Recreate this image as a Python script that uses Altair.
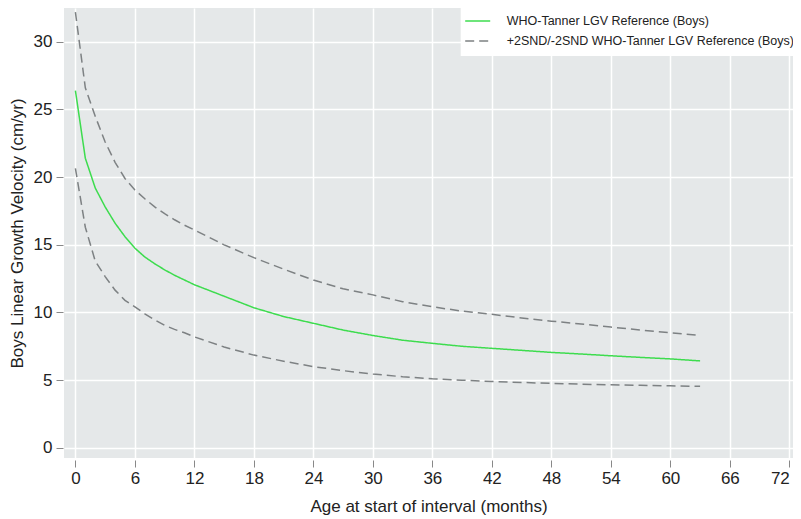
import altair as alt
import pandas as pd

# ---- data ----
months = [0, 1, 2, 3, 4, 5, 6, 7, 8, 9, 10, 11, 12,
          15, 18, 21, 24, 27, 30, 33, 36, 39, 42, 45, 48, 51, 54, 57, 60, 63]
center = [26.4, 21.4, 19.2, 17.8, 16.6, 15.6, 14.75, 14.1, 13.6, 13.15, 12.75, 12.4, 12.05,
          11.2, 10.35, 9.7, 9.2, 8.7, 8.3, 7.95, 7.72, 7.5, 7.35, 7.2, 7.05, 6.93, 6.8, 6.68, 6.57, 6.42]
upper = [32.2, 26.6, 24.5, 22.6, 21.1, 19.9, 19.05, 18.4, 17.8, 17.3, 16.85, 16.45, 16.1,
         15.0, 14.05, 13.2, 12.4, 11.75, 11.3, 10.8, 10.42, 10.1, 9.86, 9.6, 9.36, 9.15, 8.92, 8.7, 8.5, 8.3]
lower = [20.65, 16.3, 13.8, 12.65, 11.65, 10.9, 10.42, 9.9, 9.45, 9.05, 8.75, 8.5, 8.2,
         7.45, 6.85, 6.4, 6.0, 5.7, 5.45, 5.25, 5.1, 5.0, 4.9, 4.83, 4.76, 4.7, 4.66, 4.62, 4.58, 4.54]

x_ticks = list(range(0, 73, 6))
y_ticks = [0, 5, 10, 15, 20, 25, 30]

LBL_C = "WHO-Tanner LGV Reference (Boys)"
LBL_B = "+2SND/-2SND WHO-Tanner LGV Reference (Boys)"

rows = []
for m, c, u, l in zip(months, center, upper, lower):
    rows.append({"month": m, "value": c, "series": LBL_C, "curve": "center"})
    rows.append({"month": m, "value": u, "series": LBL_B, "curve": "upper"})
    rows.append({"month": m, "value": l, "series": LBL_B, "curve": "lower"})
df = pd.DataFrame(rows)

GREEN = "#3ddc4e"
GRAY = "#7d8183"
FONT = "Liberation Sans"

legend = alt.Legend(
    title=None,
    orient="none",
    legendX=396.7,
    legendY=-2,
    padding=8,
    fillColor="white",
    symbolType="M-2,0H2",
    symbolSize=156.25,
    symbolStrokeWidth=1.5,
    symbolOffset=2,
    labelOffset=22,
    rowPadding=6,
    labelFont=FONT,
    labelFontSize=12.5,
    labelColor="#222222",
    labelLimit=400,
)

chart = alt.Chart(df).mark_line(strokeWidth=1.5).encode(
    x=alt.X("month:Q",
            scale=alt.Scale(domain=[-1.15, 72.37], nice=False, zero=False),
            axis=alt.Axis(values=x_ticks, title="Age at start of interval (months)",
                          offset=2, labelPadding=3, titlePadding=12, labelFlush=8)),
    y=alt.Y("value:Q",
            scale=alt.Scale(domain=[-0.754, 32.5], nice=False, zero=False),
            axis=alt.Axis(values=y_ticks, title="Boys Linear Growth Velocity (cm/yr)",
                          offset=1, labelPadding=4, titlePadding=7, labelFlush=False)),
    color=alt.Color("series:N",
                    scale=alt.Scale(domain=[LBL_C, LBL_B], range=[GREEN, GRAY]),
                    legend=legend),
    strokeDash=alt.StrokeDash("series:N",
                              scale=alt.Scale(domain=[LBL_C, LBL_B], range=[[1, 0], [9, 5]]),
                              legend=legend),
    detail="curve:N",
).properties(
    width=729,
    height=450,
    autosize=alt.AutoSizeParams(type="none"),
    padding={"left": 56, "top": 0, "right": 0, "bottom": 58},
).configure_view(
    fill="#e5e8e9", stroke=None
).configure_axis(
    grid=True, gridColor="white", gridWidth=1.5,
    domain=False,
    tickColor="#888888", tickSize=7, tickWidth=1,
    labelFont=FONT, labelFontSize=17, labelColor="#222222",
    titleFont=FONT, titleFontSize=17, titleFontWeight="normal", titleColor="#222222",
    labelOverlap=False,
)

chart.save("out.html", embed_options={"renderer": "svg", "actions": False})
